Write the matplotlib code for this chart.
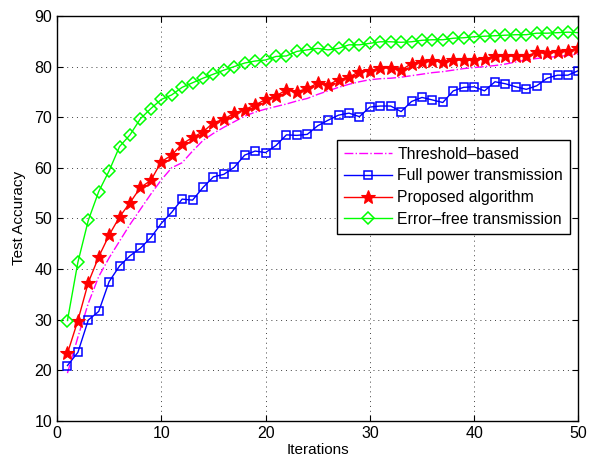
import numpy as np
import matplotlib
matplotlib.use("Agg")
import matplotlib.pyplot as plt

plt.rcParams["font.family"] = ["Liberation Sans", "DejaVu Sans"]

# test accuracy per iteration for each scheme
iterations = np.arange(1, 51)

threshold_based = [
    19.4, 26.5, 33.2, 38.5, 42.2, 45.5, 48.8, 51.8, 54.8, 57.6,
    60.0, 61.0, 63.3, 65.4, 66.8, 68.0, 69.1, 70.2, 71.0, 71.6,
    72.1, 72.6, 73.2, 73.7, 74.5, 75.2, 75.9, 76.5, 77.0, 77.4,
    77.6, 77.7, 77.9, 78.2, 78.5, 78.8, 79.0, 79.3, 79.6, 79.8,
    80.0, 80.2, 80.5, 80.9, 81.3, 81.6, 81.8, 82.0, 82.2, 82.5,
]

full_power = [
    20.9, 23.5, 29.9, 31.6, 37.5, 40.6, 42.6, 44.1, 46.2, 49.0,
    51.2, 53.8, 53.6, 56.1, 58.2, 58.7, 60.1, 62.5, 63.3, 63.0,
    64.4, 66.5, 66.4, 66.6, 68.3, 69.4, 70.4, 70.8, 70.1, 72.0,
    72.2, 72.2, 71.1, 73.1, 73.9, 73.4, 72.9, 75.2, 75.9, 76.0,
    75.2, 77.0, 76.6, 76.0, 75.5, 76.2, 77.7, 78.3, 78.3, 79.2,
]

proposed = [
    23.3, 29.8, 37.3, 42.4, 46.7, 50.3, 53.1, 56.1, 57.5, 61.2,
    62.5, 64.7, 66.0, 67.1, 68.9, 69.6, 70.8, 71.5, 72.4, 73.5,
    74.2, 75.4, 75.0, 75.7, 76.7, 76.4, 77.4, 77.9, 79.0, 79.2,
    79.7, 79.8, 79.3, 80.6, 81.0, 81.1, 81.0, 81.3, 81.3, 81.3,
    81.5, 82.1, 82.1, 82.1, 82.1, 82.8, 82.6, 82.9, 83.1, 83.6,
]

error_free = [
    29.8, 41.3, 49.6, 55.3, 59.4, 64.2, 66.5, 69.7, 71.7, 73.5,
    74.4, 75.9, 76.8, 77.7, 78.5, 79.3, 80.0, 80.7, 81.1, 81.3,
    82.0, 82.1, 83.0, 83.3, 83.6, 83.3, 83.6, 84.3, 84.3, 84.6,
    84.9, 84.9, 84.8, 84.9, 85.2, 85.3, 85.3, 85.6, 85.7, 85.9,
    86.0, 86.1, 86.2, 86.3, 86.3, 86.6, 86.6, 86.7, 86.8, 86.7,
]

fig = plt.figure(figsize=(5.89, 4.62), dpi=100)
ax = fig.add_axes([0.0968, 0.0894, 0.8852, 0.876])

ax.plot(iterations, threshold_based, color="#ff00ff", linestyle="-.", lw=1.0,
        label="Threshold\u2013based")
ax.plot(iterations, full_power, color="#0000ff", marker="s", ms=6, mfc="none",
        mew=1.1, lw=1.0, label="Full power transmission")
ax.plot(iterations, proposed, color="#ff0000", marker="*", ms=10, mfc="#ff0000",
        mew=0.8, lw=1.0, label="Proposed algorithm")
ax.plot(iterations, error_free, color="#00ff00", marker="D", ms=6.5, mfc="none",
        mew=1.1, lw=1.0, label="Error\u2013free transmission")

ax.set_xlim(0, 50)
ax.set_ylim(10, 90)
ax.set_xticks(range(0, 51, 10))
ax.set_yticks(range(10, 91, 10))
ax.tick_params(direction="in", top=True, right=True, labelsize=11.5, length=4)
ax.grid(True, linestyle=(0, (1, 4)), color="#404040", linewidth=0.7)
for s in ax.spines.values():
    s.set_linewidth(1.0)

ax.set_xlabel("Iterations", fontsize=11, labelpad=2)
ax.set_ylabel("Test Accuracy", fontsize=11, labelpad=6)

leg = ax.legend(loc="upper right", bbox_to_anchor=(0.984, 0.694), fontsize=11.3,
                frameon=True, fancybox=False, edgecolor="black", framealpha=1,
                handlelength=3.05, borderpad=0.45, labelspacing=0.42,
                handletextpad=0.35, borderaxespad=0)
leg.get_frame().set_linewidth(1.0)

fig.savefig("out.png", dpi=100)
